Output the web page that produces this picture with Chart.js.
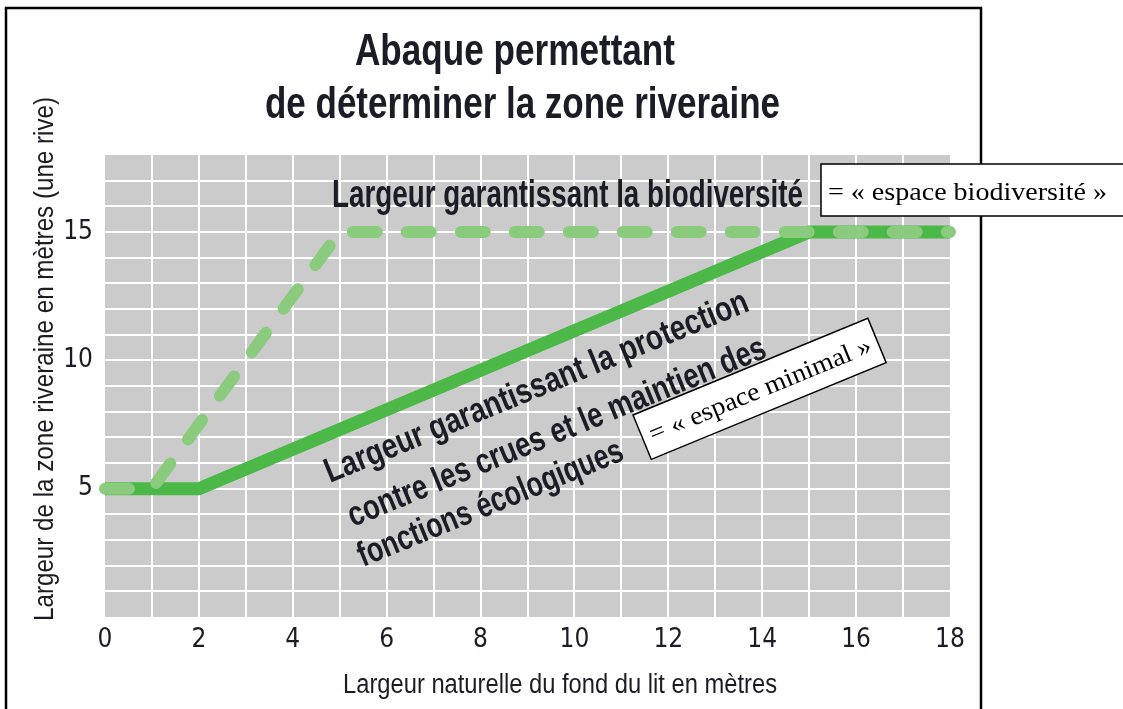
<!DOCTYPE html>
<html>
<head>
  <title>Abaque zone riveraine</title>
  <script src="https://cdn.jsdelivr.net/npm/chart.js"></script>
  <style>
    body {
      margin: 0;
      background: #ffffff;
    }
  </style>
</head>
<body>
  <canvas id="chart" width="1123" height="709"></canvas>

  <script>
    // largeur minimale (protection contre les crues)
    const xProtection = [0, 2, 15, 18];
    const yProtection = [5, 5, 15, 15];
    // largeur biodiversité (tirets)
    const xBiodiv = [0, 1, 5, 18];
    const yBiodiv = [5, 5, 15, 15];

    const xLabeled = [0, 2, 4, 6, 8, 10, 12, 14, 16, 18];
    const yLabeled = [5, 10, 15];

    const titleLines = ["Abaque permettant", "de déterminer la zone riveraine"];
    const xTitle = "Largeur naturelle du fond du lit en mètres";
    const yTitle = "Largeur de la zone riveraine en mètres (une rive)";
    const biodivLabel = "Largeur garantissant la biodiversité";
    const protectionLabel = ["Largeur garantissant la protection", "contre les crues et le maintien des", "fonctions écologiques"];
    const biodivBox = "= « espace biodiversité »";
    const minimalBox = "= « espace minimal »";

    const ink = '#1c1c26';
    const narrow = '"Liberation Sans Narrow", "DejaVu Sans Condensed", "Liberation Sans", sans-serif';

    function pts(xs, ys) {
      return xs.map((x, i) => ({ x: x, y: ys[i] }));
    }

    // texte resserré horizontalement pour imiter la police condensée
    function fitText(ctx, text, x, y, font, width, rot) {
      ctx.save();
      ctx.font = font;
      const s = width / ctx.measureText(text).width;
      ctx.translate(x, y);
      if (rot) ctx.rotate(rot);
      ctx.scale(s, 1);
      ctx.textAlign = 'left';
      ctx.textBaseline = 'alphabetic';
      ctx.fillText(text, 0, 0);
      ctx.restore();
    }

    const decor = {
      id: 'decor',
      beforeDraw(chart) {
        const { ctx, chartArea: a } = chart;
        ctx.save();
        ctx.fillStyle = '#cbcbcb';
        ctx.fillRect(a.left, a.top, a.right - a.left, a.bottom - a.top);
        ctx.restore();
      },
      afterDraw(chart) {
        const ctx = chart.ctx;
        ctx.save();
        ctx.fillStyle = ink;

        // titre
        fitText(ctx, titleLines[0], 355, 65, 'bold 45px "Liberation Sans"', 320);
        fitText(ctx, titleLines[1], 265, 118, 'bold 45px "Liberation Sans"', 515);

        // titres des axes
        fitText(ctx, xTitle, 343, 693, '27px "Liberation Sans"', 434);
        fitText(ctx, yTitle, 53, 621, '27px "Liberation Sans"', 524, -Math.PI / 2);

        // étiquettes dans le graphique
        fitText(ctx, biodivLabel, 332, 207, 'bold 39px "Liberation Sans"', 471);
        const ang = -22.3 * Math.PI / 180;
        fitText(ctx, protectionLabel[0], 330, 483, 'bold 35px "Liberation Sans"', 455, ang);
        fitText(ctx, protectionLabel[1], 353, 527, 'bold 35px "Liberation Sans"', 449, ang);
        fitText(ctx, protectionLabel[2], 363, 567, 'bold 35px "Liberation Sans"', 284, ang);

        // cadre
        ctx.strokeStyle = '#000';
        ctx.lineWidth = 2.5;
        ctx.strokeRect(6, 8, 975, 760);

        // encadrés
        ctx.lineWidth = 1.5;
        ctx.fillStyle = '#fff';
        ctx.fillRect(821, 164, 310, 52);
        ctx.strokeRect(821, 164, 310, 52);
        ctx.fillStyle = '#000';
        fitText(ctx, biodivBox, 828, 200, '25px "Liberation Serif"', 279);

        ctx.save();
        ctx.translate(633, 415);
        ctx.rotate(-22.4 * Math.PI / 180);
        ctx.fillStyle = '#fff';
        ctx.fillRect(0, 0, 254, 48);
        ctx.strokeRect(0, 0, 254, 48);
        ctx.fillStyle = '#000';
        fitText(ctx, minimalBox, 8, 33, '26px "Liberation Serif"', 238);
        ctx.restore();

        ctx.restore();
      }
    };

    const gridColor = c => (c.tick && (c.tick.value === 0 || c.tick.value === 18)) ? 'rgba(0,0,0,0)' : '#ffffff';

    new Chart(document.getElementById('chart').getContext('2d'), {
      type: 'line',
      data: {
        datasets: [
          {
            label: 'Biodiversité',
            data: pts(xBiodiv, yBiodiv),
            borderColor: '#8acb7e',
            borderWidth: 12,
            borderDash: [24, 30],
            borderCapStyle: 'round',
            borderJoinStyle: 'round',
            pointRadius: 0,
            tension: 0,
            clip: false,
            order: 0
          },
          {
            label: 'Protection',
            data: pts(xProtection, yProtection),
            borderColor: '#4cb848',
            borderWidth: 13,
            borderCapStyle: 'butt',
            borderJoinStyle: 'miter',
            pointRadius: 0,
            tension: 0,
            clip: false,
            order: 1
          }
        ]
      },
      options: {
        responsive: false,
        animation: false,
        layout: { padding: { top: 155, right: 173, left: 0, bottom: 0 } },
        plugins: {
          legend: { display: false },
          tooltip: { enabled: false }
        },
        scales: {
          x: {
            type: 'linear',
            min: 0,
            max: 18,
            afterFit: s => { s.height = 92; },
            border: { display: false },
            grid: { color: gridColor, lineWidth: 2, drawTicks: false },
            ticks: {
              stepSize: 1,
              autoSkip: false,
              maxRotation: 0,
              padding: 8,
              color: ink,
              font: { family: narrow, size: 26 },
              callback: v => xLabeled.includes(v) ? v : ''
            }
          },
          y: {
            min: 0,
            max: 18,
            afterFit: s => { s.width = 105; },
            border: { display: false },
            grid: { color: gridColor, lineWidth: 2, drawTicks: false },
            ticks: {
              stepSize: 1,
              autoSkip: false,
              padding: 12,
              color: ink,
              font: { family: narrow, size: 26 },
              callback: v => yLabeled.includes(v) ? v : ''
            }
          }
        }
      },
      plugins: [decor]
    });
  </script>
</body>
</html>
